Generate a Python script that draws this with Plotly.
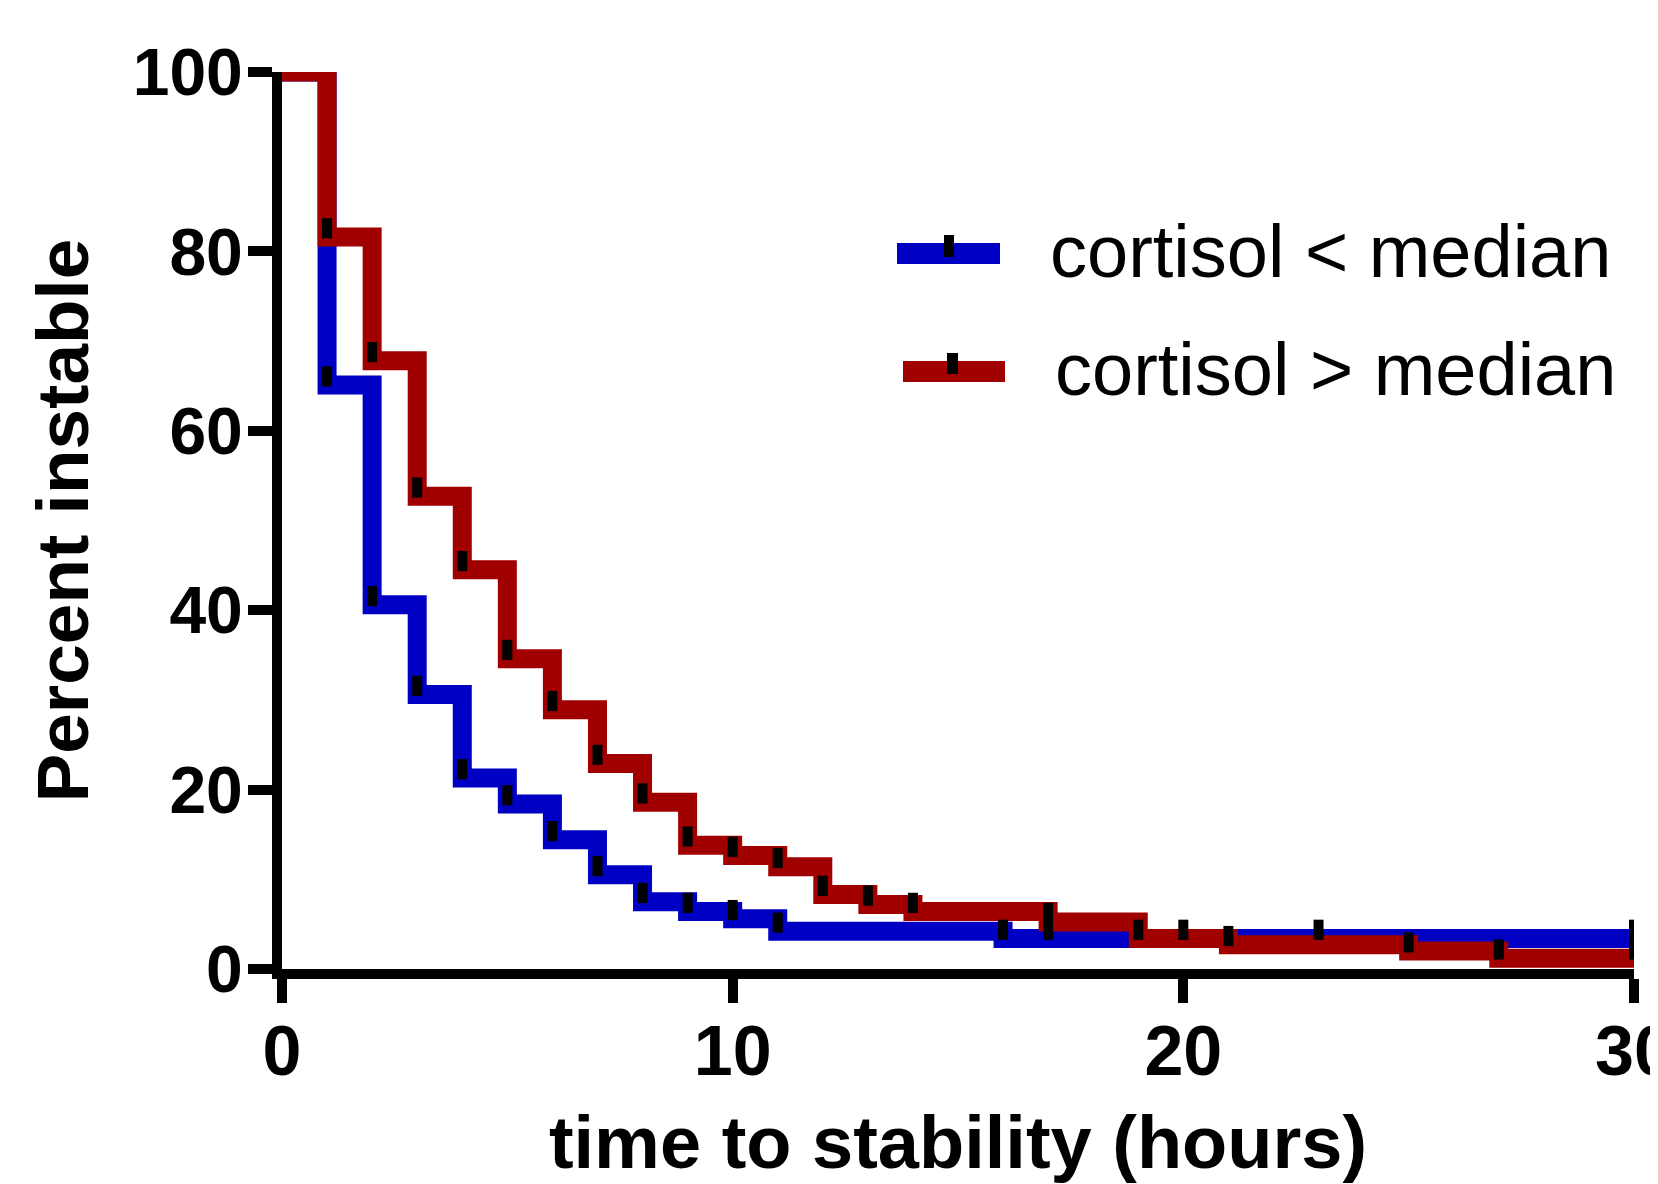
import plotly.graph_objects as go

# ---------------- data ----------------
series_names = ["cortisol < median", "cortisol > median"]

# Kaplan-Meier steps, group with cortisol below median
low_times = [0, 1, 2, 3, 4, 5, 6, 7, 8, 9, 10, 11, 16, 30]
low_pct = [100, 65.1, 40.6, 30.6, 21.3, 18.4, 14.4, 10.5, 7.5, 6.4, 5.6, 4.2, 3.4, 3.4]
low_censored = [1, 2, 3, 4, 5, 6, 7, 8, 9, 10, 11, 16, 17, 23, 30]

# Kaplan-Meier steps, group with cortisol above median
high_times = [0, 1, 2, 3, 4, 5, 6, 7, 8, 9, 10, 11, 12, 13, 14, 17, 19, 21, 25, 27, 30]
high_pct = [100, 81.6, 67.8, 52.7, 44.5, 34.6, 28.9, 22.9, 18.6, 13.8, 12.65, 11.4,
            8.3, 7.2, 6.4, 5.25, 3.4, 2.7, 2.0, 1.2, 1.2]
high_censored = [1, 2, 3, 4, 5, 6, 7, 8, 9, 10, 11, 12, 13, 14, 17, 19, 20, 21, 25, 27, 30]

x_ticks = [0, 10, 20, 30]
y_ticks = [0, 20, 40, 60, 80, 100]

# ---------------- styling ----------------
BLUE = "#0000C4"
RED = "#A00000"
FONT = "Liberation Sans, Arial, sans-serif"
PAGE_W, PAGE_H = 1658, 1184
OFF = 8                                   # default body margin of the html page
W, H = PAGE_W - OFF, PAGE_H - OFF
# plot-area edges in page pixels
L, R, T, B = 282, 1634, 72, 969


def survival_at(times, pct, t):
    s = pct[0]
    for ti, pi in zip(times, pct):
        if ti <= t:
            s = pi
    return s


def px_x(p):
    return (p - L) / (R - L)


def px_y(p):
    return (B - p) / (B - T)


fig = go.Figure()

for times, pct, color in [(low_times, low_pct, BLUE), (high_times, high_pct, RED)]:
    fig.add_trace(go.Scatter(
        x=times, y=pct, mode="lines",
        line=dict(color=color, width=19, shape="hv"),
        showlegend=False, hoverinfo="skip",
    ))

# censor tick marks
for cens, times, pct in [(low_censored, low_times, low_pct), (high_censored, high_times, high_pct)]:
    fig.add_trace(go.Scatter(
        x=cens, y=[survival_at(times, pct, t) for t in cens],
        mode="markers", marker=dict(size=1, color="rgba(0,0,0,0)"),
        error_y=dict(type="constant", symmetric=False, value=2.1, valueminus=0.15,
                     color="black", thickness=10, width=0),
        cliponaxis=False, showlegend=False, hoverinfo="skip",
    ))

# ---------------- legend (swatch + tick + label), page pixels ----------------
legend_rows = [
    dict(name=series_names[0], color=BLUE, sw=(897, 1000, 243, 264), tk=(944, 954, 235, 257), tx=1048, ty=251),
    dict(name=series_names[1], color=RED, sw=(903, 1005, 361, 382), tk=(947, 958, 353, 374), tx=1053, ty=369),
]
shapes = []
annotations = []
for row in legend_rows:
    x0, x1, y0, y1 = row["sw"]
    shapes.append(dict(type="rect", xref="paper", yref="paper",
                       x0=px_x(x0), x1=px_x(x1), y0=px_y(y1), y1=px_y(y0),
                       fillcolor=row["color"], line=dict(width=0), layer="above"))
    x0, x1, y0, y1 = row["tk"]
    shapes.append(dict(type="rect", xref="paper", yref="paper",
                       x0=px_x(x0), x1=px_x(x1), y0=px_y(y1), y1=px_y(y0),
                       fillcolor="black", line=dict(width=0), layer="above"))
    annotations.append(dict(text=row["name"], xref="paper", yref="paper",
                            x=px_x(row["tx"]), y=px_y(row["ty"]),
                            xanchor="left", yanchor="middle", showarrow=False,
                            font=dict(family=FONT, size=74, color="black")))

fig.update_layout(
    width=W, height=H,
    margin=dict(l=L - OFF, r=PAGE_W - R, t=T - OFF, b=PAGE_H - B, pad=0, autoexpand=False),
    paper_bgcolor="white", plot_bgcolor="white",
    showlegend=False,
    shapes=shapes, annotations=annotations,
    font=dict(family=FONT, color="black"),
)

fig.update_xaxes(
    range=[0, 30], tickvals=x_ticks, ticktext=[str(v) for v in x_ticks],
    automargin=False,
    showline=True, linewidth=10, linecolor="black", mirror=False,
    ticks="outside", ticklen=24, tickwidth=10, tickcolor="black",
    showgrid=False, zeroline=False, ticklabeloverflow="allow",
    ticklabelstandoff=-12,
    tickfont=dict(family=FONT, size=70, color="black", weight="bold"),
    title=dict(text="time to stability (hours)", standoff=34,
               font=dict(family=FONT, size=74, color="black", weight="bold")),
)
fig.update_yaxes(
    range=[0, 100], tickvals=y_ticks, ticktext=[str(v) for v in y_ticks],
    automargin=False,
    showline=True, linewidth=10, linecolor="black", mirror=False,
    ticks="outside", ticklen=24, tickwidth=10, tickcolor="black",
    showgrid=False, zeroline=False,
    ticklabelstandoff=-8,
    tickfont=dict(family=FONT, size=66, color="black", weight="bold"),
    title=dict(text="Percent instable", standoff=24,
               font=dict(family=FONT, size=73, color="black", weight="bold")),
)

fig.write_html("out.html")
